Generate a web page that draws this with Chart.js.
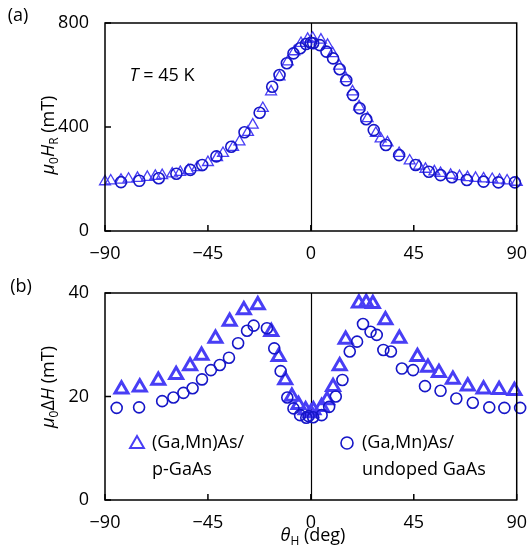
<!DOCTYPE html>
<html>
<head>
<meta charset="utf-8">
<script src="https://cdn.jsdelivr.net/npm/chart.js@4.4.1/dist/chart.umd.min.js"></script>
<style>
body { margin: 0; background: #fff; }
#wrap { position: relative; width: 531px; height: 550px; }
canvas { position: absolute; left: 0; }
#chartA { top: 0; }
#chartB { top: 262px; }
</style>
</head>
<body>
<div id="wrap">
<canvas id="chartA" width="531" height="262"></canvas>
<canvas id="chartB" width="531" height="288"></canvas>
</div>
<script>
// tick values
const angleTicks = [-90, -45, 0, 45, 90];
const hrTicks = [0, 400, 800];
const dhTicks = [0, 20, 40];

// (a) resonance field, (Ga,Mn)As/p-GaAs (triangles)
const hrTriAngle = [-90, -87.5, -83, -79.7, -75.8, -71.5, -68, -65, -60.6, -57.1, -53.6, -49.7, -45, -41, -38.4, -34, -31.2, -27.5, -25.4, -21, -17.4, -13.7, -10.1, -7.2, -4.3, -1.4, 0.8, 4.4, 7.3, 9.5, 12.4, 15.3, 18.2, 21.1, 24.8, 28.4, 30.5, 33.5, 38.6, 43.2, 47.3, 50.1, 54, 56.7, 61.1, 65, 68.5, 72, 75.5, 79.3, 82.5, 85.8, 90];
const hrTriValue = [190, 193, 196, 200, 203, 207, 211, 214, 220, 226, 233, 244, 264, 283, 299, 322, 343, 380, 408, 472, 536, 593, 651, 690, 722, 738, 742, 735, 715, 683, 635, 587, 536, 478, 433, 376, 355, 340, 299, 270, 250, 238, 228, 222, 215, 210, 206, 203, 201, 199, 196, 193, 188];

// (a) resonance field, (Ga,Mn)As/undoped GaAs (circles)
const hrCircAngle = [-83, -75, -66.5, -58.8, -52.7, -47.5, -41.3, -34.8, -29, -22.4, -16.9, -13.7, -10.5, -7.6, -4.7, -2.1, 0, 1, 3.9, 6.8, 9.7, 12.6, 15.5, 18.4, 21.3, 24.2, 27.5, 32.8, 38.6, 45.8, 51.6, 56.7, 61.7, 68.2, 75.5, 82, 89.2];
const hrCircValue = [188, 193, 203, 220, 235, 254, 287, 324, 380, 455, 555, 600, 645, 683, 703, 719, 724, 722, 715, 690, 664, 622, 580, 523, 472, 430, 388, 331, 292, 254, 228, 215, 207, 196, 190, 187, 187];

// (b) linewidth, (Ga,Mn)As/p-GaAs (triangles)
const dhTriAngle = [-82.8, -74.8, -66.7, -58.9, -52.8, -47.8, -41.7, -35.5, -29.3, -23.2, -17.3, -14.1, -11.2, -8.3, -5.4, -2.3, 0, 1.1, 4.7, 7.1, 9.7, 12.6, 15.2, 21, 24.2, 27.1, 32.6, 38.7, 46.6, 51.2, 56, 62.1, 68.6, 75.5, 82.3, 89];
const dhTriValue = [21.4, 21.8, 23.1, 24.2, 25.9, 27.9, 31.2, 34.5, 36.7, 37.7, 32.5, 27.7, 23.2, 20.0, 18.4, 17.4, 16.8, 17.4, 18.0, 19.3, 21.9, 25.9, 31.0, 38.0, 38.1, 37.9, 34.8, 31.2, 27.7, 25.6, 24.6, 23.3, 22.0, 21.4, 21.3, 21.1];

// (b) linewidth, (Ga,Mn)As/undoped GaAs (circles)
const dhCircAngle = [-84.9, -75.1, -65, -60.1, -55.7, -51.7, -47.6, -43.7, -39.8, -35.8, -31.8, -27.9, -25, -19.2, -16, -13.2, -10.3, -7.6, -4.7, -2, -1, 1, 4.7, 8, 10.9, 13.8, 17, 20.2, 22.8, 26.1, 28.8, 31.7, 35, 39.8, 44.7, 49.9, 56.7, 63.6, 70.8, 78, 84.6, 91.5];
const dhCircValue = [17.8, 17.9, 19.1, 19.8, 20.7, 21.6, 23.3, 25.1, 26.1, 27.5, 30.3, 32.7, 33.7, 33.2, 29.3, 24.9, 19.8, 17.7, 16.4, 15.9, 16.2, 16.0, 16.4, 18.0, 20.0, 23.2, 28.7, 30.6, 34.0, 32.5, 31.9, 29.0, 28.7, 25.4, 25.1, 22.0, 21.1, 19.6, 18.8, 17.9, 17.8, 17.8];

const triColor = 'rgb(72,62,245)';
const circColor = 'rgb(22,22,200)';
const FONT = '"Open Sans", sans-serif';
const FS = 18;

function pts(xs, ys) {
    return xs.map((x, i) => ({ x: x, y: ys[i] }));
}

function fmt(v) {
    return v < 0 ? '\u2212' + Math.abs(v) : String(v);
}

// parts: [text, italic, sub]
function drawRich(ctx, parts, cx, cy, rotate) {
    ctx.save();
    ctx.translate(cx, cy);
    if (rotate) ctx.rotate(-Math.PI / 2);
    ctx.fillStyle = '#000';
    ctx.textBaseline = 'alphabetic';
    const fontOf = p => (p[1] ? 'italic ' : '') + (p[2] ? 12 : FS) + 'px ' + FONT;
    const widths = parts.map(p => { ctx.font = fontOf(p); return ctx.measureText(p[0]).width; });
    let x = -widths.reduce((s, w) => s + w, 0) / 2;
    parts.forEach((p, i) => {
        ctx.font = fontOf(p);
        ctx.fillText(p[0], x, p[2] ? 10 : 6);
        x += widths[i];
    });
    ctx.restore();
}

function drawTri(ctx, x, y, r, lw) {
    ctx.save();
    ctx.strokeStyle = triColor;
    ctx.lineWidth = lw;
    ctx.beginPath();
    ctx.moveTo(x, y - r);
    ctx.lineTo(x + r * 0.866, y + r / 2);
    ctx.lineTo(x - r * 0.866, y + r / 2);
    ctx.closePath();
    ctx.stroke();
    ctx.restore();
}

function drawCirc(ctx, x, y, r, lw) {
    ctx.save();
    ctx.strokeStyle = circColor;
    ctx.lineWidth = lw;
    ctx.beginPath();
    ctx.arc(x, y, r, 0, Math.PI * 2);
    ctx.stroke();
    ctx.restore();
}

const axisPlugin = {
    id: 'axisFrame',
    beforeDatasetsDraw(chart) {
        const { ctx, chartArea: a, scales: { x } } = chart;
        const x0 = Math.round(x.getPixelForValue(0)) + 0.5;
        ctx.save();
        ctx.strokeStyle = '#000';
        ctx.lineWidth = 1.2;
        ctx.beginPath();
        ctx.moveTo(x0, a.top);
        ctx.lineTo(x0, a.bottom);
        ctx.stroke();
        ctx.restore();
    },
    afterDraw(chart) {
        const { ctx, chartArea: a, scales: { x, y } } = chart;
        ctx.save();
        ctx.strokeStyle = '#000';
        ctx.lineWidth = 1.5;
        ctx.strokeRect(a.left, a.top, a.right - a.left, a.bottom - a.top);
        ctx.beginPath();
        x.ticks.forEach(t => {
            const px = x.getPixelForValue(t.value);
            ctx.moveTo(px, a.bottom);
            ctx.lineTo(px, a.bottom - 6);
        });
        y.ticks.forEach(t => {
            const py = y.getPixelForValue(t.value);
            ctx.moveTo(a.left, py);
            ctx.lineTo(a.left + 6, py);
        });
        ctx.stroke();
        ctx.restore();
    }
};

function makeChart(id, opts) {
    return new Chart(document.getElementById(id), {
        type: 'scatter',
        data: {
            datasets: [
                {
                    data: pts(opts.circX, opts.circY),
                    pointStyle: 'circle',
                    pointRadius: 5.5,
                    pointBorderWidth: 1.6,
                    borderColor: circColor,
                    backgroundColor: 'rgba(0,0,0,0)',
                    order: 0,
                    clip: false
                },
                {
                    data: pts(opts.triX, opts.triY),
                    pointStyle: 'triangle',
                    pointRadius: opts.triR,
                    pointBorderWidth: opts.triW,
                    borderColor: triColor,
                    backgroundColor: 'rgba(0,0,0,0)',
                    order: 1,
                    clip: false
                }
            ]
        },
        options: {
            responsive: false,
            animation: false,
            events: [],
            layout: { padding: { left: 0, right: 11, top: opts.top, bottom: 0 } },
            plugins: { legend: { display: false }, tooltip: { enabled: false } },
            scales: {
                x: {
                    type: 'linear',
                    min: -90, max: 90,
                    afterBuildTicks: s => { s.ticks = angleTicks.map(v => ({ value: v })); },
                    afterFit: s => { s.height = opts.xH; },
                    grid: { display: false },
                    border: { display: false },
                    ticks: { padding: 4, color: '#000', font: { family: FONT, size: FS }, callback: fmt, maxRotation: 0 }
                },
                y: {
                    type: 'linear',
                    min: opts.yTicks[0], max: opts.yTicks[opts.yTicks.length - 1],
                    afterBuildTicks: s => { s.ticks = opts.yTicks.map(v => ({ value: v })); },
                    afterFit: s => { s.width = 105; },
                    grid: { display: false },
                    border: { display: false },
                    ticks: { padding: 8, color: '#000', font: { family: FONT, size: FS }, callback: fmt }
                }
            }
        },
        plugins: [axisPlugin, { id: 'texts', afterDraw: opts.texts }]
    });
}

makeChart('chartA', {
    triX: hrTriAngle, triY: hrTriValue, circX: hrCircAngle, circY: hrCircValue,
    triR: 6.3, triW: 1.3, top: 23, xH: 31, yTicks: hrTicks,
    texts: chart => {
        const ctx = chart.ctx;
        drawRich(ctx, [['(a)', false, false]], 18, 15, false);
        drawRich(ctx, [['\u03bc', true, false], ['0', false, true], ['H', true, false], ['R', false, true], [' (mT)', false, false]], 48, 135, true);
        drawRich(ctx, [['T', true, false], [' = 45 K', false, false]], 162, 75, false);
    }
});

makeChart('chartB', {
    triX: dhTriAngle, triY: dhTriValue, circX: dhCircAngle, circY: dhCircValue,
    triR: 7.5, triW: 3, top: 31, xH: 50, yTicks: dhTicks,
    texts: chart => {
        const ctx = chart.ctx;
        drawRich(ctx, [['(b)', false, false]], 21, 24, false);
        drawRich(ctx, [['\u03bc', true, false], ['0', false, true], ['\u0394', false, false], ['H', true, false], [' (mT)', false, false]], 48, 125, true);
        drawRich(ctx, [['\u03b8', true, false], ['H', false, true], [' (deg)', false, false]], 313, 273, false);
        drawTri(ctx, 137, 182, 8, 2);
        ctx.save();
        ctx.fillStyle = '#000';
        ctx.font = FS + 'px ' + FONT;
        ctx.textBaseline = 'middle';
        ctx.fillText('(Ga,Mn)As/', 152, 181);
        ctx.fillText('p-GaAs', 152, 208);
        ctx.fillText('(Ga,Mn)As/', 362, 181);
        ctx.fillText('undoped GaAs', 362, 208);
        ctx.restore();
        drawCirc(ctx, 347, 181, 6, 1.6);
    }
});
</script>
</body>
</html>
